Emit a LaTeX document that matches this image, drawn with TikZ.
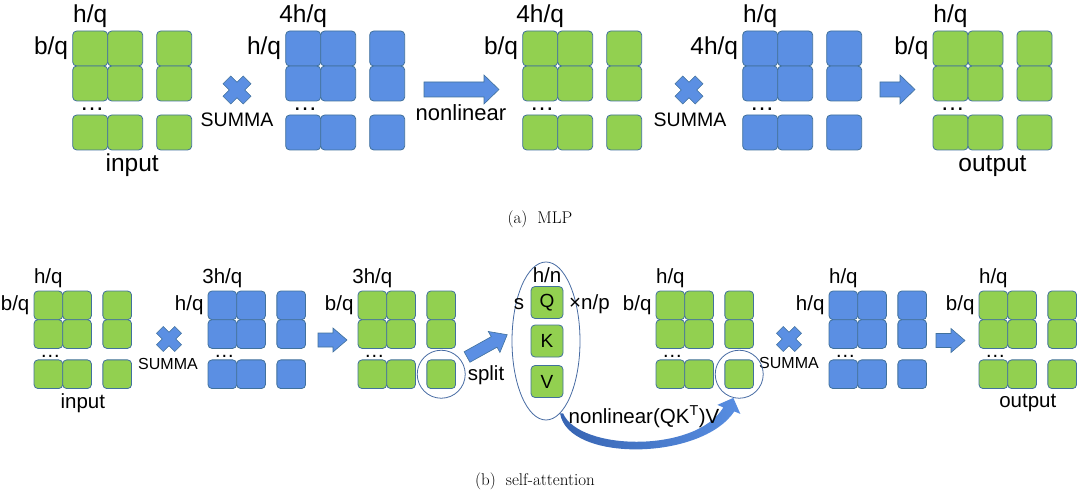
\documentclass[tikz,border=0pt]{standalone}
\usepackage{fontspec}
\setsansfont{Liberation Sans}
\usetikzlibrary{positioning,shapes.geometric,calc}

\definecolor{cellgreen}{RGB}{146,208,80}
\definecolor{cellblue}{RGB}{91,143,227}
\definecolor{celledge}{RGB}{65,113,156}
\definecolor{ringedge}{RGB}{70,106,162}
\definecolor{arrowblue}{RGB}{88,142,226}
\definecolor{arrowdark}{RGB}{55,100,178}

\tikzset{
  cell/.style={draw=celledge, line width=0.8pt, rounded corners=4pt, inner sep=0pt},
  ring/.style={draw=ringedge, line width=0.8pt, inner sep=0pt},
  barrow/.style={fill=cellblue, draw=celledge, line width=0.6pt},
  bigtxt/.style={font=\sffamily\fontsize{24.5}{28}\selectfont, inner sep=0pt},
  midtxt/.style={font=\sffamily\fontsize{22}{26}\selectfont, inner sep=0pt},
  smalltxt/.style={font=\sffamily\fontsize{20.5}{24}\selectfont, inner sep=0pt},
  summatxt/.style={font=\sffamily\fontsize{#1}{22}\selectfont, inner sep=0pt},
  capt/.style={font=\fontsize{17}{20}\selectfont, inner sep=0pt}
}

% 3x3 block of cells: name, left, top, cell size, fill
\newcommand{\cellgrid}[5]{%
  \foreach \r/\ry in {1/0,2/1,3/2.4}{
    \foreach \c/\cx in {1/0,2/1,3/2.4}{
      \node[cell, fill=#5, minimum size=#4pt] (#1-\r-\c) at ({#2+(\cx+0.5)*#4},{#3+(\ry+0.5)*#4}) {};
    }
  }
  \coordinate (#1-c) at ({#2+1.7*#4},{#3+1.7*#4});
}
% labels of a block: name, top text, side text, style
\newcommand{\gridlabels}[4]{%
  \node[#4, above=3pt of #1-1-1] (#1-top) {#2};
  \node[#4, left=4pt of #1-1-1] (#1-side) {#3};
  \node[#4, anchor=base] (#1-dots) at ($(#1-2-1.south)+(2,9)$) {…};
}
% block arrow: x, y, angle, length, shaft half, head half, head length
\newcommand{\blockarrow}[7]{%
  \begin{scope}[shift={(#1,#2)}, rotate=#3]
    \filldraw[barrow] (0,-#5) -- ({#4-#7},-#5) -- ({#4-#7},-#6) -- (#4,0)
      -- ({#4-#7},#6) -- ({#4-#7},#5) -- (0,#5) -- cycle;
  \end{scope}
}
% multiply sign: x, y, arm half length, arm half width
\newcommand{\summacross}[4]{%
  \begin{scope}[shift={(#1,#2)}, rotate=45]
    \filldraw[barrow] (#4,#4) -- (#3,#4) -- (#3,-#4) -- (#4,-#4) -- (#4,-#3)
      -- (-#4,-#3) -- (-#4,-#4) -- (-#3,-#4) -- (-#3,#4) -- (-#4,#4)
      -- (-#4,#3) -- (#4,#3) -- cycle;
  \end{scope}
}

\begin{document}
\begin{tikzpicture}[x=1pt, y=-1pt]
  \useasboundingbox (0,0) rectangle (1080,492);

  % ---------------- (a) MLP ----------------
  \cellgrid{ma1}{72.7}{31}{35}{cellgreen}
  \cellgrid{ma2}{285.7}{31}{35}{cellblue}
  \cellgrid{ma3}{522.7}{31}{35}{cellgreen}
  \cellgrid{ma4}{742.7}{31}{35}{cellblue}
  \cellgrid{ma5}{933}{31}{35}{cellgreen}

  \gridlabels{ma1}{h/q}{b/q}{bigtxt}
  \gridlabels{ma2}{4h/q}{h/q}{bigtxt}
  \gridlabels{ma3}{4h/q}{b/q}{bigtxt}
  \gridlabels{ma4}{h/q}{4h/q}{bigtxt}
  \gridlabels{ma5}{h/q}{b/q}{bigtxt}

  \path (ma1-3-2.south -| ma1-c) ++(0,21) node[bigtxt, anchor=base] (in a) {input};
  \path (ma5-3-2.south -| ma5-c) ++(0,21) node[bigtxt, anchor=base] (out a) {output};

  % multiply and arrows
  \summacross{237}{90}{14.3}{5.5}
  \node[summatxt=19.5, anchor=base] (summa a1) at (237,127) {SUMMA};
  \blockarrow{424}{89.5}{0}{75}{7.5}{14.5}{15}
  \node[midtxt, anchor=base] (nonlin) at (461,121) {nonlinear};
  \summacross{689}{90}{14.3}{5.5}
  \node[summatxt=19.5, anchor=base] (summa a2) at (690,127) {SUMMA};
  \blockarrow{880}{89.5}{0}{35}{7.5}{14.5}{15}

  \node[capt, anchor=base] (cap a) at (540,223) {(a)\hspace{10pt}MLP};

  % ---------------- (b) self-attention ----------------
  \cellgrid{mb1}{34}{291}{28.7}{cellgreen}
  \cellgrid{mb2}{208}{291}{28.7}{cellblue}
  \cellgrid{mb3}{358}{291}{28.7}{cellgreen}
  \cellgrid{mb4}{656}{291}{28.7}{cellgreen}
  \cellgrid{mb5}{829}{291}{28.7}{cellblue}
  \cellgrid{mb6}{979}{291}{28.7}{cellgreen}

  \gridlabels{mb1}{h/q}{b/q}{smalltxt}
  \gridlabels{mb2}{3h/q}{h/q}{smalltxt}
  \gridlabels{mb3}{3h/q}{b/q}{smalltxt}
  \gridlabels{mb4}{h/q}{b/q}{smalltxt}
  \gridlabels{mb5}{h/q}{h/q}{smalltxt}
  \gridlabels{mb6}{h/q}{b/q}{smalltxt}

  \path (mb1-3-2.south -| mb1-c) ++(0,20) node[smalltxt, anchor=base] (in b) {input};
  \path (mb6-3-2.south -| mb6-c) ++(0,19) node[smalltxt, anchor=base] (out b) {output};

  \summacross{169}{339}{12.9}{4.8}
  \node[summatxt=16, anchor=base] (summa b1) at (168,369) {SUMMA};
  \blockarrow{318}{340}{0}{29}{7}{12}{14}
  \summacross{789}{339}{12.9}{4.8}
  \node[summatxt=16, anchor=base] (summa b2) at (789,368) {SUMMA};
  \blockarrow{936}{340.5}{0}{29}{7}{12}{14}

  % picked cells
  \node[ring, circle, minimum size=48pt] (pick1) at (mb3-3-3) {};
  \node[ring, circle, minimum size=48pt] (pick2) at (mb4-3-3) {};

  % split into Q, K, V
  \blockarrow{467}{357}{29}{46}{6}{12}{15}
  \node[smalltxt, anchor=base] (split) at (486,380) {split};
  \node[ring, ellipse, minimum width=68pt, minimum height=158pt] (qkv) at (546,341) {};
  \foreach \n/\yy in {Q/302.5,K/341,V/381.5}
    \node[cell, fill=cellgreen, minimum size=32pt, font=\sffamily\fontsize{19}{22}\selectfont] (\n) at (547,\yy) {\n};
  \node[smalltxt, anchor=base] (hn) at (547,282) {h/n};
  \node[smalltxt, anchor=base] (s) at (519,309) {s};
  \node[smalltxt, anchor=base west] (np) at (569,309) {×n/p};

  % attention result back into the picked cell
  \coordinate (att from) at (qkv.-79);
  \coordinate (att tip) at (pick2.-104);
  \shade[left color=arrowdark, right color=arrowblue]
    (att from) .. controls +(8,49) and +(-33,49.5) .. ($(att tip)+(1,13.5)$)
    -- ($(att tip)+(7,16)$) -- (att tip) -- ($(att tip)+(-16,7)$) -- ($(att tip)+(-10,9.5)$)
    .. controls +(-27,45.5) and +(17,38) .. ($(att from)+(3,0)$) -- cycle;
  \node[smalltxt, anchor=base] (att) at (644,423) {nonlinear(QK\textsuperscript{T})V};

  \node[capt, anchor=base] (cap b) at (535,485) {(b)\hspace{10pt}self-attention};
\end{tikzpicture}
\end{document}
